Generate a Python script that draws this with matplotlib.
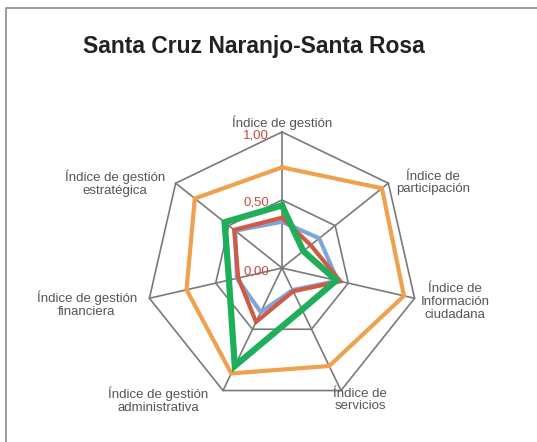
import numpy as np
import matplotlib
matplotlib.use("Agg")
import matplotlib.pyplot as plt
from matplotlib.lines import Line2D

categories = ["Índice de gestión", "Índice de\nparticipación", "Índice de\nInformación\nciudadana",
              "Índice de\nservicios", "Índice de gestión\nadministrativa",
              "Índice de gestión\nfinanciera", "Índice de gestión\nestratégica"]
blue = [0.34, 0.35, 0.42, 0.18, 0.36, 0.34, 0.44]
red = [0.37, 0.27, 0.44, 0.19, 0.44, 0.33, 0.45]
green = [0.46, 0.20, 0.41, 0.34, 0.80, 0.40, 0.54]
orange = [0.74, 0.94, 0.92, 0.80, 0.86, 0.72, 0.82]
rticks = [0.0, 0.5, 1.0]
rtick_labels = ["0,00", "0,50", "1,00"]
title = "Santa Cruz Naranjo-Santa Rosa"

W, H = 537, 442
fig = plt.figure(figsize=(W / 100, H / 100), dpi=100)
plt.rcParams['font.family'] = ['Liberation Sans', 'DejaVu Sans']

# frame (left and top edges only)
fig.add_artist(Line2D([5.5 / W, 5.5 / W, 1.05], [-0.05, 1 - 8 / H, 1 - 8 / H],
                      transform=fig.transFigure, color="#8a8a8a", lw=1.2))

cx, cy, R = 282, 268, 136
ax = fig.add_axes([(cx - R) / W, (H - cy - R) / H, 2 * R / W, 2 * R / H], projection="polar")
ax.set_theta_zero_location("N")
ax.set_theta_direction(-1)
ax.set_ylim(0, 1.0)
ax.grid(False)
ax.spines["polar"].set_visible(False)
ax.set_xticks([])
ax.set_yticks([])
ax.patch.set_alpha(0)

n = len(categories)
ang = np.linspace(0, 2 * np.pi, n, endpoint=False)
angc = np.append(ang, ang[0])

gc = "#7a7a7a"
for r in rticks[1:]:
    ax.plot(angc, [r] * (n + 1), color=gc, lw=1.2, zorder=1, clip_on=False)
for a in ang:
    ax.plot([a, a], [0, 1.0], color=gc, lw=1.2, zorder=1, clip_on=False)

def close(v):
    return list(v) + [v[0]]

ax.plot(angc, close(orange), color="#F0A14E", lw=3.0, zorder=3, clip_on=False, solid_joinstyle="miter")
ax.plot(angc, close(blue), color="#80A6D8", lw=3.0, zorder=4, clip_on=False, solid_joinstyle="miter")
ax.plot(angc, close(red), color="#CF5B46", lw=3.0, zorder=5, clip_on=False, solid_joinstyle="miter")
ax.plot(angc, close(green), color="#1FAF5A", lw=4.5, zorder=6, clip_on=False, solid_joinstyle="miter")

# radial labels
for r, lab in zip(rticks, rtick_labels):
    ypix = cy - r * R + 3
    fig.text((cx - 13) / W, 1 - ypix / H, lab, ha="right", va="center",
             fontsize=9.5, color="#C64A3F")

# category labels (pixel centers)
label_pos = [(282, 123), (433, 183), (455, 302), (360, 400), (158, 400), (87, 304), (115, 183)]
for lab, (x, y) in zip(categories, label_pos):
    fig.text(x / W, 1 - y / H, lab, ha="center", va="center", fontsize=9.5,
             color="#555555", linespacing=1.1)

fig.text(254 / W, 1 - 47 / H, title, ha="center", va="center", fontsize=16.5,
         fontweight="bold", color="#222222")

fig.savefig("out.png", dpi=100)
